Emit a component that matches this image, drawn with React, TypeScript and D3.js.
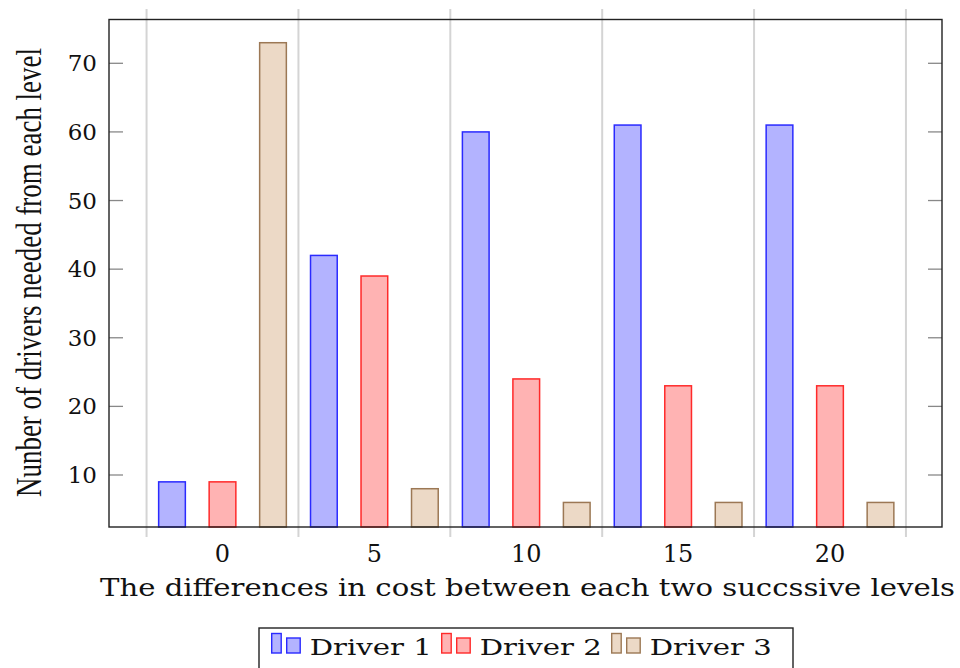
import * as d3 from "d3";
import React from "react";

const COSTS = [0, 5, 10, 15, 20];
const DRIVER_1 = [9, 42, 60, 61, 61];
const DRIVER_2 = [9, 39, 24, 23, 23];
const DRIVER_3 = [73, 8, 6, 6, 6];
const SERIES_NAMES = ["Driver 1", "Driver 2", "Driver 3"];
const Y_TICKS = [10, 20, 30, 40, 50, 60, 70];
const GRID_X = [-2.5, 2.5, 7.5, 12.5, 17.5, 22.5];

const COLORS = [
  { fill: "#b3b3ff", stroke: "#2a2aff" },
  { fill: "#ffb3b3", stroke: "#ff2a2a" },
  { fill: "#ecd9c6", stroke: "#9c7855" },
];

const PLOT = { left: 109, right: 942, top: 19.5, bottom: 527 };
const BAR_WIDTH = 26.7;
const BAR_SHIFT = 50.5;
const FONT = "'DejaVu Serif', serif";

export default function App() {
  const xScale = d3.scaleLinear().domain([0, 20]).range([222.5, 830]);
  const yScale = d3.scaleLinear().domain([10, 70]).range([475, 63.3]);

  const series = [DRIVER_1, DRIVER_2, DRIVER_3];

  // bars, shifted left / centre / right around each cost value
  const bars = series.flatMap((vals, si) =>
    vals.map((v, i) => {
      const cx = xScale(COSTS[i]) + (si - 1) * BAR_SHIFT;
      const y = yScale(v);
      return (
        <rect
          key={`${si}-${i}`}
          x={cx - BAR_WIDTH / 2}
          y={y}
          width={BAR_WIDTH}
          height={PLOT.bottom - y}
          fill={COLORS[si].fill}
          stroke={COLORS[si].stroke}
          strokeWidth={1.5}
        />
      );
    })
  );

  const legendX = 271.7;
  const legendStride = 170;

  return (
    <svg
      width={960}
      height={668}
      style={{ position: "absolute", left: 0, top: 0, background: "#fff" }}
    >
      {GRID_X.map((g) => (
        <line
          key={g}
          x1={xScale(g)}
          x2={xScale(g)}
          y1={9}
          y2={537}
          stroke="#d4d4d4"
          strokeWidth={2}
        />
      ))}
      {bars}
      {Y_TICKS.map((t) => (
        <g key={t}>
          <line x1={PLOT.left} x2={PLOT.left + 14} y1={yScale(t)} y2={yScale(t)} stroke="#888" strokeWidth={1.3} />
          <line x1={PLOT.right - 14} x2={PLOT.right} y1={yScale(t)} y2={yScale(t)} stroke="#888" strokeWidth={1.3} />
          <text
            x={97}
            y={yScale(t) + 8}
            textAnchor="end"
            fontFamily={FONT}
            fontSize={23}
            fill="#111"
          >
            {t}
          </text>
        </g>
      ))}
      <rect
        x={PLOT.left}
        y={PLOT.top}
        width={PLOT.right - PLOT.left}
        height={PLOT.bottom - PLOT.top}
        fill="none"
        stroke="#222"
        strokeWidth={1.4}
      />
      {COSTS.map((c) => (
        <text
          key={c}
          x={xScale(c)}
          y={562}
          textAnchor="middle"
          fontFamily={FONT}
          fontSize={24}
          fill="#111"
        >
          {c}
        </text>
      ))}
      <text
        x={100}
        y={596}
        fontFamily={FONT}
        fontSize={24}
        textLength={855}
        lengthAdjust="spacingAndGlyphs"
        fill="#111"
      >
        The differences in cost between each two succssive levels
      </text>
      {/* condensed, rotated y label: smaller font stretched across */}
      <text
        transform="translate(41,497) rotate(-90) scale(1,1.38)"
        fontFamily="'Liberation Serif', serif"
        fontSize={26}
        textLength={449}
        lengthAdjust="spacingAndGlyphs"
        fill="#111"
      >
        Nunber of drivers needed from each level
      </text>
      <rect x={259} y={628} width={534} height={60} fill="#fff" stroke="#222" strokeWidth={1.4} />
      {SERIES_NAMES.map((name, si) => {
        const x0 = legendX + si * legendStride;
        return (
          <g key={name}>
            <rect x={x0} y={633.5} width={9.5} height={19.5} fill={COLORS[si].fill} stroke={COLORS[si].stroke} strokeWidth={1.4} />
            <rect x={x0 + 15} y={638} width={13.5} height={15} fill={COLORS[si].fill} stroke={COLORS[si].stroke} strokeWidth={1.4} />
            <text
              x={x0 + 38}
              y={655}
              fontFamily={FONT}
              fontSize={22}
              textLength={122}
              lengthAdjust="spacingAndGlyphs"
              fill="#111"
            >
              {name}
            </text>
          </g>
        );
      })}
    </svg>
  );
}
